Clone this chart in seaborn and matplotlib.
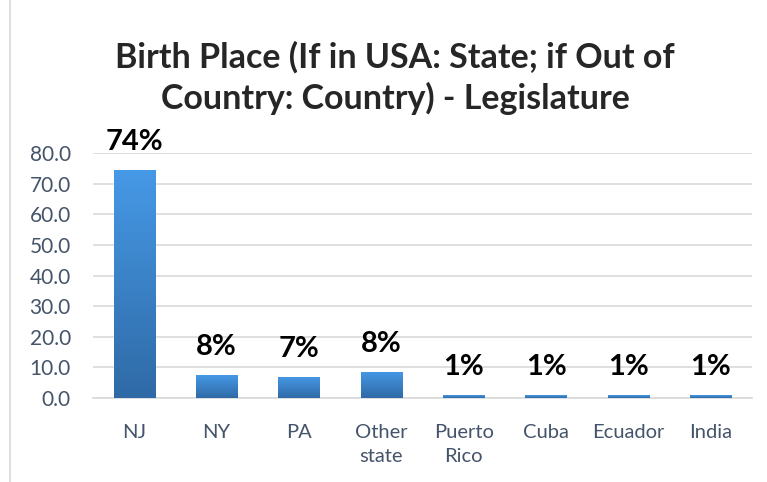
import numpy as np
import pandas as pd
import seaborn as sns
import matplotlib.pyplot as plt
from matplotlib.colors import LinearSegmentedColormap

categories = ['NJ', 'NY', 'PA', 'Other\nstate', 'Puerto\nRico', 'Cuba', 'Ecuador', 'India']
values = [74.3, 7.5, 6.9, 8.5, 0.9, 0.9, 0.9, 0.9]
labels = ['74%', '8%', '7%', '8%', '1%', '1%', '1%', '1%']
yticks = [0, 10, 20, 30, 40, 50, 60, 70, 80]

sns.set_style('white')
plt.rcParams['font.family'] = ['Lato', 'DejaVu Sans']

df = pd.DataFrame({'place': categories, 'pct': values})

fig = plt.figure(figsize=(7.67, 4.82), dpi=100)
ax = fig.add_axes([93 / 767, 1 - 398 / 482, (752 - 93) / 767, (398 - 153) / 482])

sns.barplot(data=df, x='place', y='pct', color='#3f8ad6', width=0.5, ax=ax, zorder=2)

# vertical gradient on each bar, lighter at top
cmap = LinearSegmentedColormap.from_list('blu', ['#2f6aa6', '#4699e6'])
grad = np.linspace(0, 1, 256).reshape(-1, 1)
for p in list(ax.patches):
    x0, y0 = p.get_x(), p.get_y()
    w, h = p.get_width(), p.get_height()
    im = ax.imshow(grad, cmap=cmap, aspect='auto', origin='lower',
                   extent=[x0, x0 + w, y0, y0 + h], zorder=3)
    im.set_clip_path(p)

ax.set_xlim(-0.5, len(categories) - 0.5)
ax.set_ylim(0, 80)
ax.set_yticks(yticks)
ax.set_yticklabels([f'{t:.1f}' for t in yticks])
ax.grid(axis='y', color='#d9d9d9', linewidth=1.2, zorder=0)
ax.set_axisbelow(True)
for s in ['top', 'right', 'left']:
    ax.spines[s].set_visible(False)
ax.spines['bottom'].set_color('#d9d9d9')
ax.spines['bottom'].set_linewidth(1.2)

ax.set_xlabel('')
ax.set_ylabel('')
ax.tick_params(axis='y', length=0, labelsize=15, labelcolor='#44546a', pad=16)
ax.tick_params(axis='x', length=0, labelsize=14.5, labelcolor='#44546a', pad=19)
for t in ax.get_xticklabels():
    t.set_linespacing(1.45)
ax.set_xticks(np.arange(-0.5, len(categories), 1), minor=True)
ax.tick_params(axis='x', which='minor', length=7, color='#d9d9d9', width=1.2)

for i, (v, lab) in enumerate(zip(values, labels)):
    ax.text(i, v + 5, lab, ha='center', va='bottom', fontsize=21,
            fontweight='bold', color='black', clip_on=False)

fig.text(0.515, 1 - 78 / 482, 'Birth Place (If in USA: State; if Out of\nCountry: Country) - Legislature',
         ha='center', va='center', fontsize=24.5, fontweight='bold', linespacing=1.3)

# chart frame line on the left
fig.add_artist(plt.Line2D([10 / 767, 10 / 767], [0, 1], color='#d9d9d9', linewidth=1.2))

fig.savefig('out.png', dpi=100)
